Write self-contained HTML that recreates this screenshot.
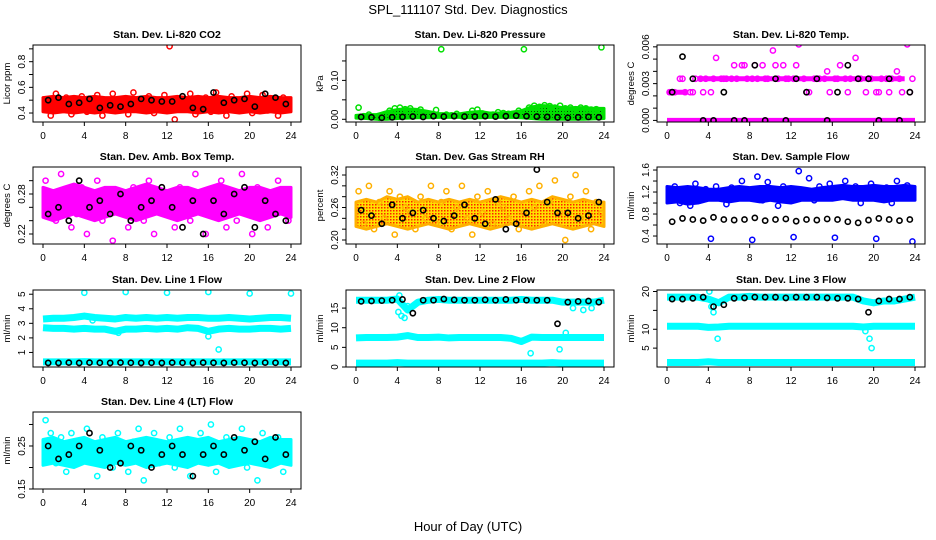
<!DOCTYPE html>
<html><head><meta charset="utf-8"><title>SPL_111107 Std. Dev. Diagnostics</title>
<style>
html,body{margin:0;padding:0;background:#fff;}
svg{display:block;font-family:"Liberation Sans",sans-serif;}
</style></head>
<body>
<svg id="chart" width="936" height="540" viewBox="0 0 936 540" xmlns="http://www.w3.org/2000/svg">
<defs>
<pattern id="rhPat" width="3" height="3" patternUnits="userSpaceOnUse"><rect width="3" height="3" fill="#ffe000"/><rect width="1.5" height="1.5" fill="#ff2000"/></pattern>
<pattern id="prPat" width="3" height="3" patternUnits="userSpaceOnUse"><rect width="3" height="3" fill="#00e000"/><rect width="1" height="1" fill="#004000"/></pattern>
</defs>
<text x="468" y="14" text-anchor="middle" font-size="13">SPL_111107  Std. Dev. Diagnostics</text>
<text x="468" y="531" text-anchor="middle" font-size="13">Hour of Day (UTC)</text>
<g id="plots"></g>
</svg>
<script>
// shared time arrays (hours UTC)
const hourT25 = [0,1,2,3,4,5,6,7,8,9,10,11,12,13,14,15,16,17,18,19,20,21,22,23,24];
const hourT = [0.5,1.5,2.5,3.5,4.5,5.5,6.5,7.5,8.5,9.5,10.5,11.5,12.5,13.5,14.5,15.5,16.5,17.5,18.5,19.5,20.5,21.5,22.5,23.5];
const halfT = [0.25,0.75,1.25,1.75,2.25,2.75,3.25,3.75,4.25,4.75,5.25,5.75,6.25,6.75,7.25,7.75,8.25,8.75,9.25,9.75,10.25,10.75,11.25,11.75,12.25,12.75,13.25,13.75,14.25,14.75,15.25,15.75,16.25,16.75,17.25,17.75,18.25,18.75,19.25,19.75,20.25,20.75,21.25,21.75,22.25,22.75,23.25,23.75];
const xTicks = [0,4,8,12,16,20,24];

// Panel 1: CO2
const co2BandLo = [0.41,0.40,0.41,0.40,0.41,0.40,0.41,0.40,0.41,0.41,0.40,0.41,0.40,0.41,0.41,0.40,0.41,0.40,0.41,0.40,0.41,0.40,0.41,0.40,0.41];
const co2BandHi = [0.52,0.53,0.52,0.53,0.52,0.53,0.52,0.52,0.53,0.52,0.53,0.52,0.52,0.53,0.52,0.53,0.52,0.53,0.52,0.52,0.53,0.52,0.53,0.52,0.52];
const co2Pts = [0.48,0.38,0.55,0.44,0.52,0.39,0.46,0.53,0.41,0.50,0.54,0.38,0.47,0.55,0.42,0.51,0.39,0.56,0.44,0.49,0.53,0.40,0.45,0.54,0.92,0.35,0.50,0.43,0.55,0.39,0.48,0.52,0.41,0.56,0.46,0.38,0.53,0.44,0.50,0.55,0.40,0.47,0.54,0.42,0.49,0.38,0.52,0.45];
const co2Black = [0.50,0.52,0.47,0.48,0.51,0.44,0.46,0.45,0.47,0.51,0.50,0.49,0.49,0.53,0.44,0.43,0.56,0.48,0.50,0.51,0.45,0.55,0.52,0.47];
// Panel 2: Pressure
const prBandLo = [0.003,0.002,0.000,0.000,0.002,0.003,0.004,0.004,0.005,0.005,0.005,0.004,0.004,0.005,0.005,0.005,0.004,0.002,0.000,0.000,0.000,0.000,0.000,0.001,0.002];
const prBandHi = [0.010,0.012,0.012,0.020,0.025,0.027,0.025,0.020,0.015,0.014,0.014,0.018,0.020,0.016,0.016,0.018,0.022,0.032,0.035,0.034,0.030,0.030,0.030,0.028,0.028];
const prPts = [0.030,0.008,0.012,0.006,0.004,0.010,0.022,0.028,0.030,0.026,0.028,0.020,0.025,0.010,0.012,0.024,0.180,0.012,0.010,0.014,0.008,0.012,0.022,0.025,0.015,0.010,0.012,0.018,0.016,0.014,0.012,0.022,0.180,0.030,0.035,0.032,0.036,0.034,0.030,0.035,0.028,0.030,0.026,0.030,0.028,0.025,0.026,0.185];
const prBlack = [0.006,0.005,0.004,0.005,0.006,0.007,0.006,0.008,0.007,0.008,0.007,0.007,0.008,0.007,0.008,0.009,0.008,0.007,0.006,0.005,0.004,0.005,0.006,0.005];
// Panel 3: Temp (dense discrete levels; null = no dense run that hour)
const tpZero = [0,0,0,0,0,0,0,0,0,0,0,0,0,0,0,0,0,0,0,0,0,0,0,0,0];
const tpLvl3 = [null,null,null,0.0034,0.0034,0.0034,0.0034,0.0034,0.0034,0.0034,0.0034,0.0034,0.0034,0.0034,0.0034,0.0034,0.0034,0.0034,0.0034,0.0034,0.0034,0.0034,0.0034,0.0034,null];
const tpLvl2 = [0.0023,0.0023,0.0023,null,null,null,null,null,null,null,null,null,null,null,null,null,null,null,null,null,null,null,null,null,null];
const tpPtsA = [0.0023,0.0023,0.0034,0.0023,0.0023,0.0034,0.0034,0.0034,0.0023,0.0051,0.0034,0.0034,0.0034,0.0034,0.0045,0.0034,0.0034,0.0034,0.0045,0.0034,0.0057,0.0034,0.0045,0.0034,0.0034,0.0062,0.0034,0.0023,0.0034,0.0034,0.0034,0.0023,0.0034,0.0045,0.0034,0.0034,0.0051,0.0034,0.0023,0.0034,0.0023,0.0034,0.0034,0.0034,0.0040,0.0023,0.0062,0.0034];
const tpPtsB = [0.0023,0.0034,0.0023,0.0023,0.0034,0.0034,0.0045,0.0045,0.0045,0.0034,0.0045,0.0034,0.0045,0.0023,0.0034,0.0040,0.0034,0.0023,0.0034,0.0034,0.0023,0.0023,0.0034,0.0023];
const tpBlack = [0.0023,0.0052,0.0034,0.0000,0.0000,0.0023,0.0000,0.0000,0.0045,0.0000,0.0034,0.0000,0.0034,0.0023,0.0034,0.0000,0.0023,0.0045,0.0034,0.0034,0.0000,0.0034,0.0000,0.0023];
// Panel 4: Amb box temp
const abBandLo = [0.245,0.24,0.245,0.25,0.245,0.24,0.245,0.25,0.245,0.24,0.245,0.25,0.245,0.24,0.245,0.25,0.245,0.24,0.245,0.25,0.245,0.24,0.245,0.25,0.245];
const abBandHi = [0.29,0.285,0.29,0.295,0.29,0.285,0.29,0.29,0.285,0.29,0.295,0.29,0.285,0.29,0.29,0.285,0.29,0.295,0.29,0.285,0.29,0.29,0.285,0.29,0.29];
const abPts = [0.30,0.26,0.24,0.31,0.28,0.23,0.25,0.29,0.22,0.27,0.30,0.24,0.26,0.21,0.28,0.25,0.23,0.29,0.27,0.24,0.30,0.22,0.26,0.28,0.25,0.23,0.29,0.26,0.24,0.31,0.27,0.22,0.25,0.28,0.30,0.23,0.26,0.24,0.31,0.27,0.22,0.29,0.25,0.23,0.28,0.30,0.26,0.24];
const abBlack = [0.25,0.26,0.24,0.30,0.26,0.27,0.25,0.28,0.24,0.26,0.27,0.29,0.26,0.23,0.27,0.22,0.27,0.25,0.28,0.29,0.23,0.27,0.25,0.24];
// Panel 5: Gas stream RH
const rhBandLo = [0.225,0.22,0.225,0.23,0.225,0.22,0.225,0.23,0.225,0.22,0.225,0.23,0.225,0.22,0.225,0.23,0.225,0.22,0.225,0.23,0.225,0.22,0.225,0.23,0.225];
const rhBandHi = [0.27,0.275,0.27,0.28,0.275,0.28,0.27,0.275,0.27,0.275,0.27,0.275,0.27,0.275,0.28,0.275,0.27,0.275,0.27,0.28,0.275,0.27,0.275,0.27,0.27];
const rhPts = [0.29,0.23,0.30,0.22,0.27,0.24,0.29,0.21,0.28,0.26,0.25,0.22,0.28,0.24,0.30,0.23,0.27,0.29,0.22,0.26,0.30,0.24,0.21,0.28,0.25,0.29,0.23,0.27,0.26,0.24,0.28,0.22,0.25,0.29,0.26,0.30,0.23,0.27,0.31,0.25,0.20,0.28,0.32,0.24,0.29,0.22,0.27,0.25];
const rhBlack = [0.255,0.245,0.23,0.265,0.24,0.25,0.255,0.24,0.235,0.245,0.265,0.24,0.23,0.275,0.22,0.23,0.25,0.33,0.27,0.25,0.25,0.24,0.245,0.27];
// Panel 6: Sample flow
const sfBandLo = [1.0,1.02,0.98,1.0,1.05,1.05,1.02,1.05,1.05,1.02,1.05,1.02,1.0,1.05,1.05,1.05,1.05,1.08,1.05,1.05,1.05,1.02,1.05,1.05,1.05];
const sfBandHi = [1.3,1.28,1.3,1.28,1.25,1.25,1.28,1.3,1.28,1.3,1.3,1.28,1.3,1.28,1.25,1.28,1.3,1.32,1.3,1.3,1.32,1.3,1.3,1.32,1.3];
const sfPts = [1.20,1.30,1.00,1.10,0.95,1.35,1.05,1.25,0.35,1.30,1.15,0.98,1.28,1.10,1.40,1.20,0.33,1.48,1.05,1.38,1.15,0.95,1.30,1.10,0.38,1.58,1.20,1.45,1.05,1.30,1.12,1.35,0.37,1.25,1.40,1.10,1.30,1.00,1.20,1.35,0.35,1.15,1.28,1.00,1.40,1.20,1.32,0.30];
const sfBlack = [0.66,0.72,0.70,0.68,0.74,0.70,0.69,0.70,0.73,0.68,0.70,0.71,0.67,0.70,0.69,0.71,0.70,0.66,0.64,0.69,0.72,0.70,0.68,0.70];
// Panel 7: Line 1 flow
const l1LvlA = [3.3,3.35,3.35,3.4,3.5,3.4,3.35,3.3,3.4,3.35,3.4,3.35,3.4,3.35,3.4,3.4,3.35,3.35,3.4,3.35,3.3,3.35,3.4,3.4,3.35];
const l1LvlB = [2.7,2.65,2.65,2.6,2.65,2.6,2.6,2.45,2.6,2.6,2.65,2.6,2.65,2.6,2.7,2.65,2.45,2.6,2.65,2.6,2.6,2.65,2.65,2.6,2.65];
const l1LvlC = [0.35,0.35,0.35,0.35,0.37,0.35,0.35,0.35,0.35,0.35,0.35,0.35,0.35,0.35,0.35,0.35,0.35,0.35,0.35,0.35,0.35,0.35,0.35,0.35,0.35];
const l1OutT = [4,8,12,16,20,24,16,17,7.3,4.8];
const l1Out = [5.1,5.15,5.1,5.15,5.05,5.05,2.1,1.2,2.35,3.2];
const l1Black = [0.28,0.28,0.3,0.28,0.3,0.29,0.28,0.3,0.29,0.28,0.29,0.28,0.3,0.29,0.28,0.3,0.29,0.28,0.3,0.29,0.28,0.3,0.29,0.28];
// Panel 8: Line 2 flow
const l2LvlA = [17,17,17,17,17.3,14.5,16.5,17,17.2,17,17,17,17,17,17,17,17.2,17,17,17,16.5,16.5,16.5,16.5,17];
const l2LvlB = [7.4,7.5,7.5,7.5,7.6,8,7.5,7.5,7.6,7.4,7.5,7.5,7.5,7.5,7.5,7.3,6.5,7.6,7.5,7.5,7.5,7.5,7.5,7.5,7.5];
const l2LvlC = [1,1,1,1,1.1,1,1,1,1,1,1,1,1,1,1,1,1,1,1,1.1,1,1,1,1,1];
const l2OutT = [4.1,4.4,4.7,5.0,4.2,16.9,19.7,20.3,21.0,22.0,22.8];
const l2Out = [14,13,12.5,15.5,18.2,3.5,4.5,8.7,15,14.5,15];
const l2Black = [16.7,16.8,16.9,17,17.2,13.7,17,17,17.3,17.1,17,17,17.1,17,17.2,17,17,17,17,11,16.5,16.7,16.8,16.5];
// Panel 9: Line 3 flow
const l3LvlA = [18.5,18.5,18.5,18.5,18,17,18.5,18.5,18.7,18.5,18.5,18.5,18.5,18.5,18.5,18.5,18.5,18.5,18.5,17.5,17,17.5,17.5,18,18.5];
const l3LvlB = [10.8,10.8,10.8,10.8,10.5,10.6,10.8,10.8,10.8,10.8,10.8,10.8,10.8,10.8,10.8,10.8,10.8,10.8,10.8,10.6,10.8,10.8,10.8,10.8,10.8];
const l3LvlC = [1.2,1.2,1.2,1.2,1.4,1.2,1.2,1.2,1.2,1.2,1.2,1.2,1.2,1.2,1.2,1.2,1.2,1.2,1.2,1.2,1.2,1.2,1.2,1.2,1.2];
const l3OutT = [4.3,4.5,4.9,19.2,19.6,19.8,4.1];
const l3Out = [16,14.5,7.5,9.5,7.5,5,20];
const l3Black = [18,18,18.2,18.5,16,16.5,18.2,18.3,18.5,18.5,18.5,18.3,18.5,18.5,18.5,18.3,18.2,18.2,18,14.5,17.5,18,18,18.5];
// Panel 10: Line 4 flow
const l4BandLo = [0.205,0.21,0.205,0.2,0.21,0.205,0.2,0.21,0.205,0.21,0.2,0.205,0.21,0.205,0.2,0.21,0.205,0.21,0.2,0.205,0.21,0.205,0.2,0.21,0.205];
const l4BandHi = [0.265,0.27,0.26,0.265,0.27,0.26,0.265,0.27,0.26,0.265,0.27,0.265,0.26,0.265,0.27,0.265,0.27,0.26,0.265,0.27,0.265,0.26,0.27,0.265,0.265];
const l4Pts = [0.31,0.28,0.21,0.27,0.19,0.28,0.23,0.26,0.29,0.22,0.18,0.27,0.25,0.20,0.28,0.23,0.19,0.26,0.29,0.17,0.24,0.28,0.21,0.25,0.27,0.20,0.29,0.23,0.18,0.26,0.28,0.22,0.30,0.19,0.25,0.27,0.21,0.24,0.29,0.20,0.26,0.17,0.28,0.22,0.25,0.27,0.19,0.24];
const l4Black = [0.25,0.22,0.23,0.25,0.28,0.24,0.20,0.21,0.25,0.24,0.20,0.23,0.25,0.23,0.18,0.23,0.25,0.23,0.27,0.24,0.26,0.22,0.27,0.23];

const NS = "http://www.w3.org/2000/svg";
const root = document.getElementById('plots');
function mk(tag, attrs, parent){const e=document.createElementNS(NS,tag);for(const k in attrs)e.setAttribute(k,attrs[k]);(parent||root).appendChild(e);return e;}

const colL=[33,346,657], rowT=[45,167,290,412], BW=268, BH=77;

const panels = [
 {id:'co2',title:'Stan. Dev. Li-820 CO2',ylab:'Licor ppm',c:0,r:0,ylim:[0.33,0.93],ticks:[0.4,0.5,0.6,0.7,0.8,0.9],labs:[0.4,0.6,0.8],dec:1,color:'#ff0000',band:[co2BandLo,co2BandHi],pts:[[halfT,co2Pts]],black:co2Black},
 {id:'pressure',title:'Stan. Dev. Li-820 Pressure',ylab:'kPa',c:1,r:0,ylim:[-0.007,0.191],ticks:[0,0.05,0.10,0.15],labs:[0,0.10],dec:2,color:'#00e000',bandFill:'url(#prPat)',band:[prBandLo,prBandHi],pts:[[halfT,prPts]],black:prBlack},
 {id:'temp',title:'Stan. Dev. Li-820 Temp.',ylab:'degrees C',c:2,r:0,ylim:[-0.00013,0.00615],ticks:[0,0.001,0.002,0.003,0.004,0.005,0.006],labs:[0,0.003,0.006],dec:3,color:'#ff00ff',levels:[tpZero,tpLvl3,tpLvl2],lvW:5,pts:[[halfT,tpPtsA],[hourT,tpPtsB]],black:tpBlack},
 {id:'ambtemp',title:'Stan. Dev. Amb. Box Temp.',ylab:'degrees C',c:0,r:1,ylim:[0.205,0.3205],ticks:[0.22,0.24,0.26,0.28,0.30],labs:[0.22,0.28],dec:2,color:'#ff00ff',band:[abBandLo,abBandHi],pts:[[halfT,abPts]],black:abBlack},
 {id:'rh',title:'Stan. Dev. Gas Stream RH',ylab:'percent',c:1,r:1,ylim:[0.1926,0.3348],ticks:[0.20,0.22,0.24,0.26,0.28,0.30,0.32],labs:[0.20,0.26,0.32],dec:2,color:'#ffb000',bandFill:'url(#rhPat)',band:[rhBandLo,rhBandHi],pts:[[halfT,rhPts]],black:rhBlack},
 {id:'sampleflow',title:'Stan. Dev. Sample Flow',ylab:'ml/min',c:2,r:1,ylim:[0.255,1.655],ticks:[0.4,0.6,0.8,1.0,1.2,1.4,1.6],labs:[0.4,0.8,1.2,1.6],dec:1,color:'#0000ff',band:[sfBandLo,sfBandHi],pts:[[halfT,sfPts]],black:sfBlack},
 {id:'line1',title:'Stan. Dev. Line 1 Flow',ylab:'ml/min',c:0,r:2,ylim:[0,5.29],ticks:[1,2,3,4,5],labs:[1,2,3,4,5],dec:0,color:'#00ffff',levels:[l1LvlA,l1LvlB,l1LvlC],lvW:7,pts:[[l1OutT,l1Out]],black:l1Black},
 {id:'line2',title:'Stan. Dev. Line 2 Flow',ylab:'ml/min',c:1,r:2,ylim:[0,19.6],ticks:[0,5,10,15],labs:[0,5,10,15],dec:0,color:'#00ffff',levels:[l2LvlA,l2LvlB,l2LvlC],lvW:7,pts:[[l2OutT,l2Out]],black:l2Black},
 {id:'line3',title:'Stan. Dev. Line 3 Flow',ylab:'ml/min',c:2,r:2,ylim:[0,20.4],ticks:[5,10,15,20],labs:[5,10,20],dec:0,color:'#00ffff',levels:[l3LvlA,l3LvlB,l3LvlC],lvW:7,pts:[[l3OutT,l3Out]],black:l3Black},
 {id:'line4',title:'Stan. Dev. Line 4 (LT) Flow',ylab:'ml/min',c:0,r:3,ylim:[0.15,0.329],ticks:[0.15,0.20,0.25,0.30],labs:[0.15,0.25],dec:2,color:'#00ffff',band:[l4BandLo,l4BandHi],pts:[[halfT,l4Pts]],black:l4Black}
];

panels.forEach(p=>{
  const L=colL[p.c], T=rowT[p.r];
  const g=mk('g',{});
  
  
  const xs=t=>L+10+t*(248/24);
  const ys=v=>T+BH-(v-p.ylim[0])/(p.ylim[1]-p.ylim[0])*BH;
  const clip='clip-'+p.id;
  const cp=mk('clipPath',{id:clip},g);mk('rect',{x:L,y:T,width:BW,height:BH},cp);
  const data=mk('g',{'clip-path':'url(#'+clip+')'},g);
  
  
  if(p.band){
    const lo=p.band[0], hi=p.band[1];
    let d='M'+hourT25.map((t,i)=>xs(t)+','+ys(hi[i])).join(' L');
    d+=' L'+hourT25.map((t,i)=>[t,i]).reverse().map(([t,i])=>xs(t)+','+ys(lo[i])).join(' L')+' Z';
    const b=mk('path',{d:d,fill:p.bandFill||p.color,stroke:p.color,'stroke-width':3,'stroke-linejoin':'round'},data);
    
    
  }
  if(p.levels){
    p.levels.forEach((lv,k)=>{
      // split into runs of non-null values
      let runs=[], cur=[];
      hourT25.forEach((t,i)=>{ if(lv[i]===null){ if(cur.length) runs.push(cur); cur=[]; } else cur.push(xs(t)+','+ys(lv[i])); });
      if(cur.length) runs.push(cur);
      runs.forEach(run=>{
        const pl=mk('polyline',{points:run.join(' '),fill:'none',stroke:p.color,'stroke-width':p.lvW,'stroke-linejoin':'round'},data);
        
        
      });
    });
  }
  p.pts.forEach(([tt,vv])=>{
    vv.forEach((v,i)=>{
      const c=mk('circle',{cx:xs(tt[i]),cy:ys(v),r:2.6,fill:'none',stroke:p.color,'stroke-width':1.5},data);
      
      
    });
  });
  p.black.forEach((v,i)=>{
    const c=mk('circle',{cx:xs(hourT[i]),cy:ys(v),r:2.6,fill:'none',stroke:'#000','stroke-width':1.6},data);
    
    
  });
  const box=mk('rect',{x:L,y:T,width:BW,height:BH,fill:'none',stroke:'#000','stroke-width':1},g);
  
  
  const tt=mk('text',{x:L+BW/2,y:T-7,'text-anchor':'middle','font-size':10.5,'font-weight':'bold'},g);
  tt.textContent=p.title;
  
  
  const xa=mk('g',{},g);
  
  
  mk('line',{x1:xs(0),x2:xs(24),y1:T+BH,y2:T+BH,stroke:'#000'},xa);
  xTicks.forEach(t=>{
    mk('line',{x1:xs(t),x2:xs(t),y1:T+BH,y2:T+BH+4,stroke:'#000'},xa);
    const lb=mk('text',{x:xs(t),y:T+BH+17,'text-anchor':'middle','font-size':10},xa);
    lb.textContent=t;
    
    
  });
  const ya=mk('g',{},g);
  
  
  mk('line',{x1:L,x2:L,y1:ys(p.ticks[0]),y2:ys(p.ticks[p.ticks.length-1]),stroke:'#000'},ya);
  p.ticks.forEach(v=>mk('line',{x1:L-4,x2:L,y1:ys(v),y2:ys(v),stroke:'#000'},ya));
  p.labs.forEach(v=>{
    const x=L-8,y=ys(v);
    const lb=mk('text',{x:x,y:y,'text-anchor':'middle','font-size':10,transform:'rotate(-90 '+x+' '+y+')'},ya);
    lb.textContent=v.toFixed(p.dec);
    
    
  });
  const yx=L-23, yy=T+BH/2;
  const yl=mk('text',{x:yx,y:yy,'text-anchor':'middle','font-size':9.5,transform:'rotate(-90 '+yx+' '+yy+')'},g);
  yl.textContent=p.ylab;
  
  
});
</script>
</body></html>
